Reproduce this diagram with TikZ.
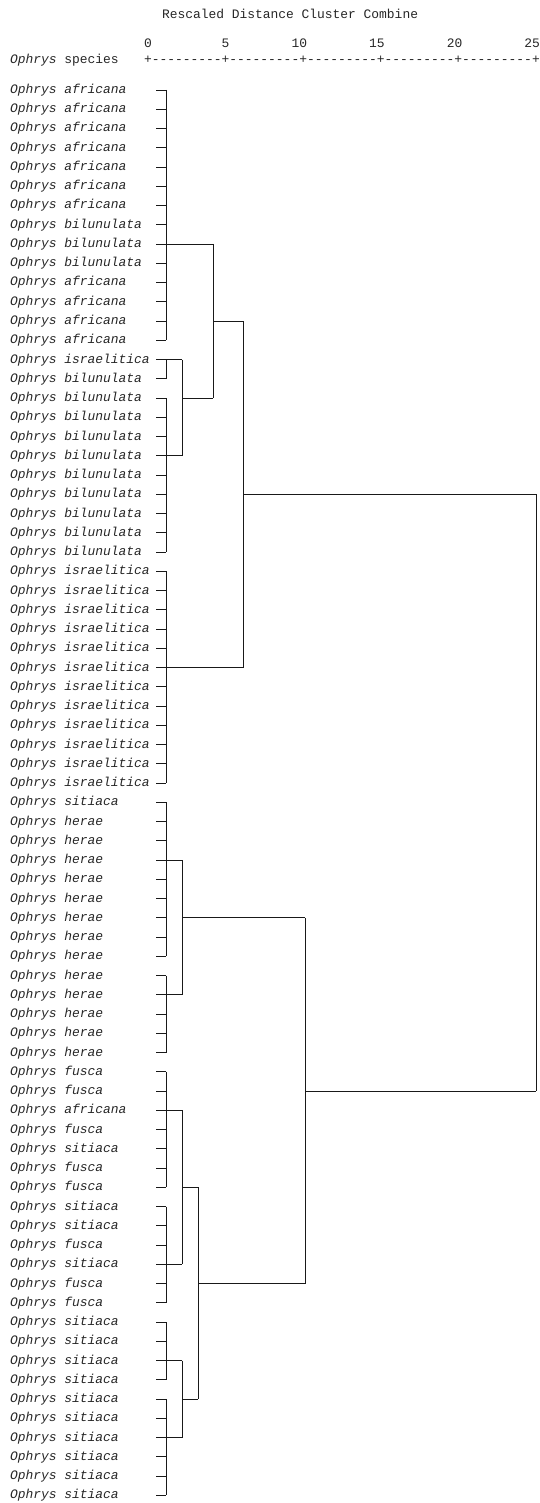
\documentclass[tikz,border=0pt]{standalone}
\usepackage{fontspec}
\setmonofont{Liberation Mono}
\begin{document}
\begin{tikzpicture}[x=1pt,y=-1pt,
  declare function={ry(\i)=90+(\i-1)*19.25;},
  txt/.style={inner sep=0pt,outer sep=0pt,font=\ttfamily\fontsize{12.93}{15}\selectfont,text=black!85},
  lab/.style={txt,anchor=base west},
  num/.style={txt,anchor=base east},
  tree/.style={line width=0.9pt,black!90}]
\useasboundingbox (0,0) rectangle (540,1503);
% header
\node[lab] (title) at (162,19) {Rescaled Distance Cluster Combine};
\node[lab] (species) at (10,64) {\textit{Ophrys} species};
\node[lab] (axis) at (144.1,64) {+---------+---------+---------+---------+---------+};
\foreach \k/\n in {0/0,1/5,2/10,3/15,4/20,5/25}
  \node[num] (n\k) at ({148+77.6*\k+3.88},47.5) {\n};
% leaves
\foreach \i/\s in {1/africana,2/africana,3/africana,4/africana,5/africana,6/africana,7/africana,
  8/bilunulata,9/bilunulata,10/bilunulata,11/africana,12/africana,13/africana,14/africana,
  15/israelitica,16/bilunulata,17/bilunulata,18/bilunulata,19/bilunulata,20/bilunulata,
  21/bilunulata,22/bilunulata,23/bilunulata,24/bilunulata,25/bilunulata,
  26/israelitica,27/israelitica,28/israelitica,29/israelitica,30/israelitica,31/israelitica,
  32/israelitica,33/israelitica,34/israelitica,35/israelitica,36/israelitica,37/israelitica,
  38/sitiaca,39/herae,40/herae,41/herae,42/herae,43/herae,44/herae,45/herae,46/herae,
  47/herae,48/herae,49/herae,50/herae,51/herae,
  52/fusca,53/fusca,54/africana,55/fusca,56/sitiaca,57/fusca,58/fusca,59/sitiaca,
  60/sitiaca,61/fusca,62/sitiaca,63/fusca,64/fusca,
  65/sitiaca,66/sitiaca,67/sitiaca,68/sitiaca,69/sitiaca,70/sitiaca,71/sitiaca,
  72/sitiaca,73/sitiaca,74/sitiaca}{
  \node[lab] (l\i) at (10,{ry(\i)+3.5}) {\textit{Ophrys \s}};
  \coordinate (a\i) at (156,{ry(\i)});
  \coordinate (b\i) at (166,{ry(\i)});
  \draw[tree] (a\i) -- (b\i);
}
% first-level clusters (vertical at x=166)
\foreach \r/\s in {1/14,15/16,17/25,26/37,38/46,47/51,52/58,59/64,65/68,69/74}
  \draw[tree] (b\r) -- (b\s);
% horizontals from first-level clusters
\draw[tree] (b9) -- (213,{ry(9)});
\draw[tree] (b15) -- (182,{ry(15)});
\draw[tree] (b20) -- (182,{ry(20)});
\draw[tree] (b31) -- (243,{ry(31)});
\draw[tree] (b41) -- (182,{ry(41)});
\draw[tree] (b48) -- (182,{ry(48)});
\draw[tree] (b54) -- (182,{ry(54)});
\draw[tree] (b62) -- (182,{ry(62)});
\draw[tree] (b67) -- (182,{ry(67)});
\draw[tree] (b71) -- (182,{ry(71)});
% upper group
\draw[tree] (182,{ry(15)}) -- (182,{ry(20)});
\draw[tree] (182,{ry(17)}) -- (213,{ry(17)});
\draw[tree] (213,{ry(9)}) -- (213,{ry(17)});
\draw[tree] (213,{ry(13)}) -- (243,{ry(13)});
\draw[tree] (243,{ry(13)}) -- (243,{ry(31)});
\draw[tree] (243,{ry(22)}) -- (536,{ry(22)});
% lower group
\draw[tree] (182,{ry(41)}) -- (182,{ry(48)});
\draw[tree] (182,{ry(44)}) -- (305,{ry(44)});
\draw[tree] (182,{ry(54)}) -- (182,{ry(62)});
\draw[tree] (182,{ry(58)}) -- (198,{ry(58)});
\draw[tree] (182,{ry(67)}) -- (182,{ry(71)});
\draw[tree] (182,{ry(69)}) -- (198,{ry(69)});
\draw[tree] (198,{ry(58)}) -- (198,{ry(69)});
\draw[tree] (198,{ry(63)}) -- (305,{ry(63)});
\draw[tree] (305,{ry(44)}) -- (305,{ry(63)});
\draw[tree] (305,{ry(53)}) -- (536,{ry(53)});
% root
\draw[tree] (536,{ry(22)}) -- (536,{ry(53)});
\end{tikzpicture}
\end{document}
